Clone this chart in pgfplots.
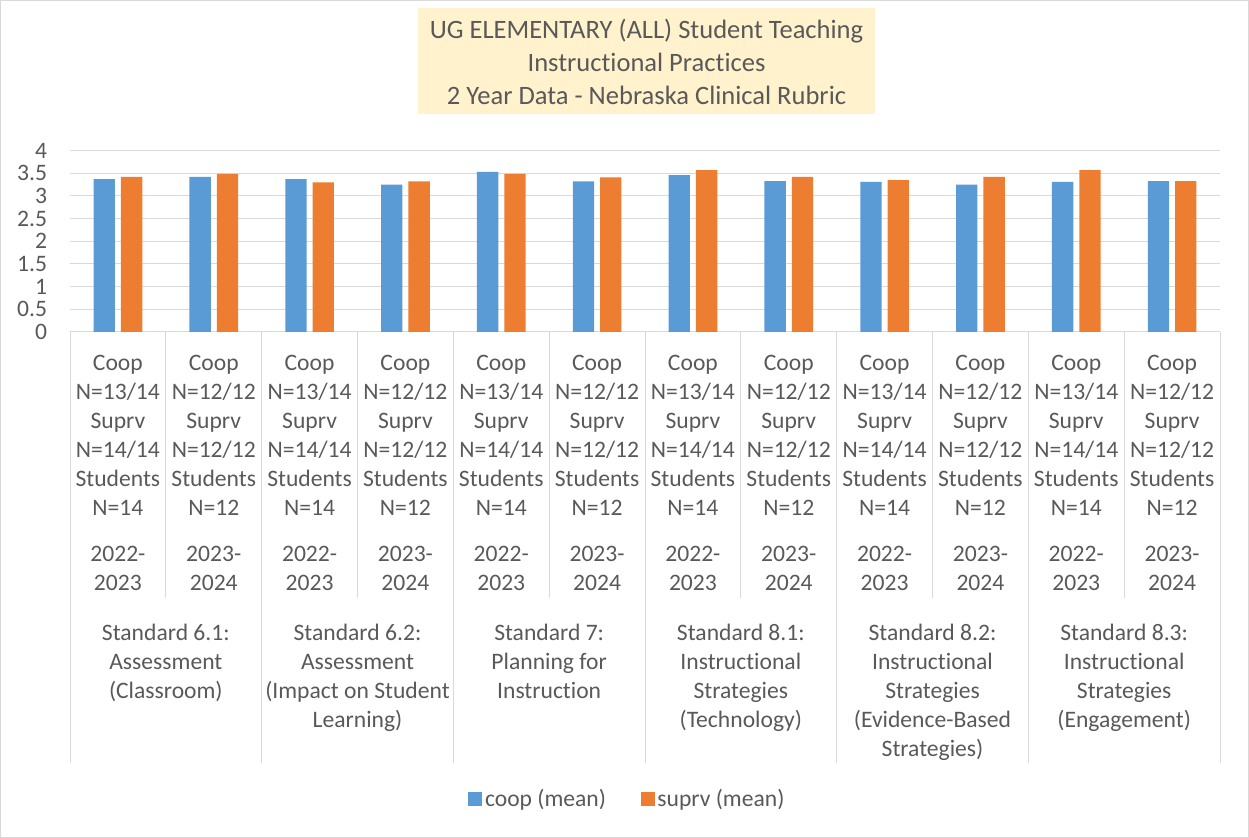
\documentclass[border=0pt]{standalone}
\usepackage{pgfplots}
\pgfplotsset{compat=1.18}
\usepackage{fontspec}
\setmainfont{Carlito}[Ligatures=NoCommon]
\definecolor{cblue}{HTML}{5B9BD5}
\definecolor{corange}{HTML}{ED7D31}
\definecolor{gridc}{HTML}{D9D9D9}
\definecolor{txt}{HTML}{595959}
\definecolor{titlebg}{HTML}{FFF2CC}
\newcommand{\lblfont}{\fontsize{17.7}{21.75}\selectfont}
\begin{document}
\begin{tikzpicture}
\begin{scope}[x=0.75pt,y=0.75pt]
\useasboundingbox (0,0) rectangle (1249,838);
\draw[gridc, line width=1pt] (0.5,0.5) rectangle (1248.5,837.5);
\fill[titlebg] (418,838-114) rectangle (875,838-8);
\node[text=txt, align=center, font=\fontsize{19.9}{24.75}\selectfont] at (646.5,838-62) {UG ELEMENTARY (ALL) Student Teaching\\Instructional Practices\\2 Year Data - Nebraska Clinical Rubric};
\end{scope}
\begin{axis}[
  at={(52.5pt,379.5pt)}, anchor=south west,
  scale only axis, width=862.5pt, height=136pt,
  xmin=-0.5, xmax=11.5, ymin=0, ymax=4,
  ybar=4.5pt, bar width=16pt,
  ytick={0,0.5,1,1.5,2,2.5,3,3.5,4},
  yticklabels={0,0.5,1,1.5,2,2.5,3,3.5,4},
  ymajorgrids, grid style={gridc, line width=0.75pt},
  axis line style={draw=none}, major tick length=0pt,
  xtick={0,1,2,3,4,5,6,7,8,9,10,11},
  xticklabels={
    {Coop\\N=13/14\\Suprv\\N=14/14\\Students\\N=14\\[12.75pt]2022-\\2023},
    {Coop\\N=12/12\\Suprv\\N=12/12\\Students\\N=12\\[12.75pt]2023-\\2024},
    {Coop\\N=13/14\\Suprv\\N=14/14\\Students\\N=14\\[12.75pt]2022-\\2023},
    {Coop\\N=12/12\\Suprv\\N=12/12\\Students\\N=12\\[12.75pt]2023-\\2024},
    {Coop\\N=13/14\\Suprv\\N=14/14\\Students\\N=14\\[12.75pt]2022-\\2023},
    {Coop\\N=12/12\\Suprv\\N=12/12\\Students\\N=12\\[12.75pt]2023-\\2024},
    {Coop\\N=13/14\\Suprv\\N=14/14\\Students\\N=14\\[12.75pt]2022-\\2023},
    {Coop\\N=12/12\\Suprv\\N=12/12\\Students\\N=12\\[12.75pt]2023-\\2024},
    {Coop\\N=13/14\\Suprv\\N=14/14\\Students\\N=14\\[12.75pt]2022-\\2023},
    {Coop\\N=12/12\\Suprv\\N=12/12\\Students\\N=12\\[12.75pt]2023-\\2024},
    {Coop\\N=13/14\\Suprv\\N=14/14\\Students\\N=14\\[12.75pt]2022-\\2023},
    {Coop\\N=12/12\\Suprv\\N=12/12\\Students\\N=12\\[12.75pt]2023-\\2024}},
  xticklabel style={align=center, font=\lblfont, text=txt, anchor=north, inner sep=0pt, yshift=-17pt},
  yticklabel style={font=\lblfont, text=txt, anchor=east, inner sep=0pt, xshift=-17pt},
  legend style={at={(0.485,-2.576)}, anchor=center, draw=none, fill=none, legend columns=2,
    font=\lblfont, text=txt, /tikz/every even column/.append style={column sep=24pt}},
  legend image code/.code={\fill[#1] (0pt,-5.25pt) rectangle (10.5pt,5.25pt);},
  clip=false,
]
\addplot[fill=cblue, draw=none] coordinates {(0,3.37) (1,3.42) (2,3.37) (3,3.25) (4,3.53) (5,3.32) (6,3.46) (7,3.33) (8,3.31) (9,3.25) (10,3.31) (11,3.33)};
\addplot[fill=corange, draw=none] coordinates {(0,3.42) (1,3.49) (2,3.30) (3,3.32) (4,3.49) (5,3.41) (6,3.57) (7,3.42) (8,3.35) (9,3.42) (10,3.57) (11,3.33)};
\legend{coop (mean), suprv (mean)}
\pgfplotsinvokeforeach{-0.5,1.5,3.5,5.5,7.5,9.5,11.5}{
  \draw[gridc, line width=0.75pt] (axis cs:#1,0) -- ++(0pt,-323.25pt);
}
\pgfplotsinvokeforeach{0.5,2.5,4.5,6.5,8.5,10.5}{
  \draw[gridc, line width=0.75pt] (axis cs:#1,0) -- ++(0pt,-199.5pt);
}
\node[anchor=north, align=center, font=\lblfont, text=txt, inner sep=0pt] at ([yshift=-219pt]axis cs:0.5,0) {Standard 6.1:\\Assessment\\(Classroom)};
\node[anchor=north, align=center, font=\lblfont, text=txt, inner sep=0pt] at ([yshift=-219pt]axis cs:2.5,0) {Standard 6.2:\\Assessment\\(Impact on Student\\Learning)};
\node[anchor=north, align=center, font=\lblfont, text=txt, inner sep=0pt] at ([yshift=-219pt]axis cs:4.5,0) {Standard 7:\\Planning for\\Instruction};
\node[anchor=north, align=center, font=\lblfont, text=txt, inner sep=0pt] at ([yshift=-219pt]axis cs:6.5,0) {Standard 8.1:\\Instructional\\Strategies\\(Technology)};
\node[anchor=north, align=center, font=\lblfont, text=txt, inner sep=0pt] at ([yshift=-219pt]axis cs:8.5,0) {Standard 8.2:\\Instructional\\Strategies\\(Evidence-Based\\Strategies)};
\node[anchor=north, align=center, font=\lblfont, text=txt, inner sep=0pt] at ([yshift=-219pt]axis cs:10.5,0) {Standard 8.3:\\Instructional\\Strategies\\(Engagement)};
\end{axis}
\end{tikzpicture}
\end{document}
